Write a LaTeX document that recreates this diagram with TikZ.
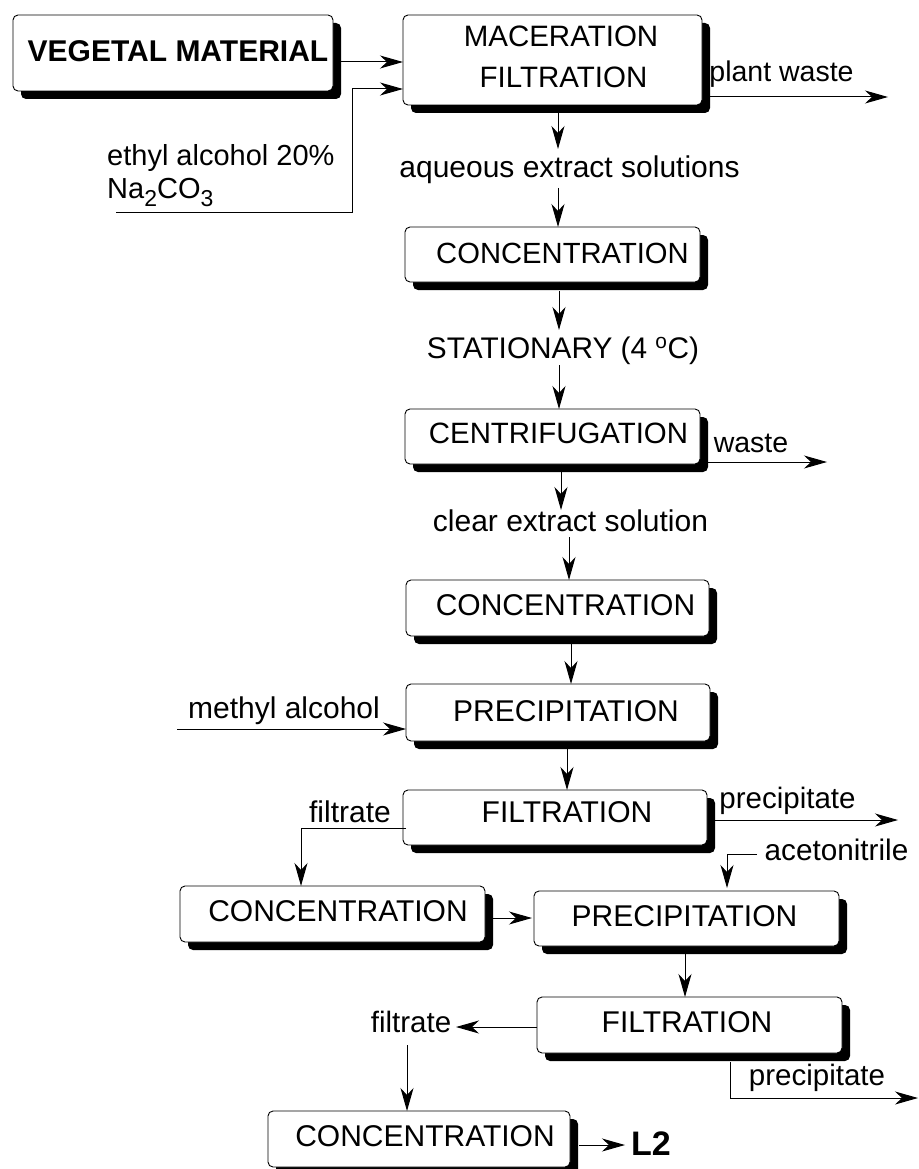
\documentclass[tikz,border=0pt]{standalone}
\usepackage{fontspec}
\setmainfont{Liberation Sans}
\usetikzlibrary{arrows.meta,shadows,calc}
\newcommand{\fsz}[1]{\fontsize{#1}{#1}\selectfont}
\newcommand{\subdig}[1]{\raisebox{-8pt}{\fsz{23}#1}}
\tikzset{
  procbox/.style={draw=black, line width=0.9pt, rounded corners=5pt, fill=white,
    inner sep=0pt, outer sep=0pt,
    general shadow={fill=black, shadow xshift=8pt, shadow yshift=-8pt}},
  lbl/.style={inner sep=0pt, anchor=base, font=\fsz{30}},
  lblw/.style={lbl, anchor=base west},
  boldlbl/.style={inner sep=0pt, anchor=base, font=\fsz{30}\bfseries},
  arr/.style={-{Stealth[length=23pt,width=13pt,inset=7pt]}, line width=1pt}
}
\begin{document}
\begin{tikzpicture}[x=1pt,y=-1pt]
\useasboundingbox (0,0) rectangle (918,1169);

% boxes
\node[procbox, minimum width=320pt, minimum height=76pt] (veg)   at (173,53) {};
\node[procbox, minimum width=299pt, minimum height=90pt] (mac)   at (552.5,60) {};
\node[procbox, minimum width=295pt, minimum height=55pt] (conc1) at (552.5,254.5) {};
\node[procbox, minimum width=295pt, minimum height=55pt] (cent)  at (552.5,436.5) {};
\node[procbox, minimum width=303pt, minimum height=56pt] (conc2) at (557.5,608) {};
\node[procbox, minimum width=304pt, minimum height=57pt] (prec1) at (558,712.5) {};
\node[procbox, minimum width=304pt, minimum height=55pt] (filt1) at (555,817.5) {};
\node[procbox, minimum width=305pt, minimum height=56pt] (conc3) at (332.5,914) {};
\node[procbox, minimum width=305pt, minimum height=55pt] (prec2) at (686.5,918.5) {};
\node[procbox, minimum width=305pt, minimum height=56pt] (filt2) at (689.5,1025) {};
\node[procbox, minimum width=302pt, minimum height=56pt] (conc4) at (419,1139) {};

% texts
\node[boldlbl] (tveg) at (178,62) {VEGETAL MATERIAL};
\node[lbl, font=\fsz{29.5}] (tmac1) at (561,47) {MACERATION};
\node[lbl, font=\fsz{29.5}] (tmac2) at (563.5,88) {FILTRATION};
\node[lbl, font=\fsz{28.5}] (tpw) at (781.5,82) {plant waste};
\node[lbl] (taq) at (569.5,178) {aqueous extract solutions};
\node[lblw, font=\fsz{29}] (teth1) at (107,166) {ethyl alcohol 20\%};
\node[lblw, font=\fsz{29}] (teth2) at (107,198) {Na\subdig{2}CO\subdig{3}};
\node[lbl, font=\fsz{29.2}] (tconc1) at (562.5,263) {CONCENTRATION};
\node[lbl, font=\fsz{29.8}] (tstat) at (563,358) {STATIONARY (4 \textsuperscript{o}C)};
\node[lbl, font=\fsz{29.4}] (tcent) at (558.5,443) {CENTRIFUGATION};
\node[lbl, font=\fsz{28.5}] (twaste) at (751,452) {waste};
\node[lbl] (tclear) at (570.5,531) {clear extract solution};
\node[lbl] (tconc2) at (565.5,615) {CONCENTRATION};
\node[lbl] (tmeth) at (284,718) {methyl alcohol};
\node[lbl] (tprec1) at (566,721) {PRECIPITATION};
\node[lbl] (tfilt1) at (567,822) {FILTRATION};
\node[lbl] (tfr1) at (350,822) {filtrate};
\node[lbl, font=\fsz{29.5}] (tppt1) at (787.5,808) {precipitate};
\node[lbl, font=\fsz{29.7}] (tacet) at (836.5,860) {acetonitrile};
\node[lbl] (tconc3) at (338,921) {CONCENTRATION};
\node[lbl] (tprec2) at (684.5,926) {PRECIPITATION};
\node[lbl] (tfilt2) at (687,1032) {FILTRATION};
\node[lbl, font=\fsz{29.5}] (tfr2) at (411,1032) {filtrate};
\node[lbl, font=\fsz{29.5}] (tppt2) at (817,1085) {precipitate};
\node[lbl] (tconc4) at (425,1146) {CONCENTRATION};
\node[boldlbl, font=\fsz{34}\bfseries] (tL2) at (651,1155) {L2};

% free-end coordinates
\coordinate (eth) at (116,212);
\coordinate (pwend) at (888,97);
\coordinate (wend) at (827,462);
\coordinate (meth) at (177,729);
\coordinate (p1end) at (898,820);
\coordinate (acet) at (757,854);
\coordinate (p2end) at (918,1098);

% connectors
\draw[arr] ($(veg.east)+(8,9)$) -- ($(mac.west)+(0,2)$);
\draw[arr] (eth) -| ($(mac.west)+(-51,29)$) -- ($(mac.west)+(0,29)$);
\draw[arr] ($(mac.east)+(8,37)$) -- (pwend);
\draw[arr] ($(mac.south)+(5.5,8)$) -- ++(0,36);
\draw[arr] ($(conc1.north)+(5.5,-39)$) -- ($(conc1.north)+(5.5,0)$);
\draw[arr] ($(conc1.south)+(6.5,9)$) -- ++(0,39);
\draw[arr] ($(cent.north)+(6.5,-44)$) -- ($(cent.north)+(6.5,0)$);
\draw[arr] ($(cent.east)+(8,25.5)$) -- (wend);
\draw[arr] ($(cent.south)+(8.5,8)$) -- ++(0,38);
\draw[arr] ($(conc2.north)+(11.5,-43)$) -- ($(conc2.north)+(11.5,0)$);
\draw[arr] ($(conc2.south)+(13.5,8)$) -- ($(prec1.north)+(13,0)$);
\draw[arr] (meth) -- (meth -| prec1.west);
\draw[arr] ($(prec1.south)+(9,7)$) -- ($(filt1.north)+(12,0)$);
\draw[arr] ($(filt1.west)+(3,10.5)$) -| ($(conc3.north)+(-31.5,0)$);
\draw[arr] ($(filt1.east)+(8,2.5)$) -- (p1end);
\draw[arr] (acet) -| ($(prec2.north)+(40.5,-3)$);
\draw[arr] ($(conc3.east)+(8,4)$) -- ($(prec2.west)+(-2,-0.5)$);
\draw[arr] ($(prec2.south)+(-1.5,8)$) -- ($(filt2.north)+(-4.5,0)$);
\draw[arr] ($(filt2.west)+(0,2)$) -- ++(-81,0);
\draw[arr] ($(conc4.north)+(-12,-66)$) -- ($(conc4.north)+(-12,0)$);
\draw[arr] ($(filt2.south)+(40.5,9)$) |- (p2end);
\draw[arr] ($(conc4.east)+(9,6)$) -- ++(46,0);
\end{tikzpicture}
\end{document}
